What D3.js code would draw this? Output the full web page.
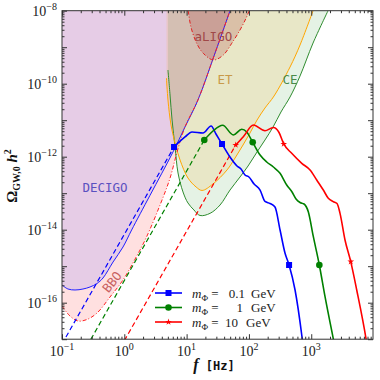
<!DOCTYPE html>
<html>
<head>
<meta charset="utf-8">
<script src="https://cdn.jsdelivr.net/npm/d3@7"></script>
<style>body{margin:0;background:#fff}</style>
</head>
<body>
<svg id="chart" width="380" height="380"></svg>
<script>
// detector sensitivity curves [f (Hz), Omega h^2]
var decigo = [[0.1,3.05e-16],[0.125,2.37e-16],[0.162,2.23e-16],[0.217,2.37e-16],[0.281,2.69e-16],[0.365,3.36e-16],[0.455,4.75e-16],[0.659,1.3e-15],[0.953,3.36e-15],[1.31,9.8e-15],[2.58,8.7e-14],[6.05,1.35e-12],[9.42,6.52e-12],[15.2,3.57e-11],[27.5,5.74e-10],[49.7,1e-8]];
var bbo = [[0.1,8.1e-17],[0.134,4.33e-17],[0.181,3.15e-17],[0.252,3.47e-17],[0.365,5.22e-17],[0.589,1.43e-16],[0.953,4.19e-16],[1.49,1.57e-15],[2.23,5.89e-15],[3.74,4.72e-14],[5.42,2.59e-13],[7.02,1.34e-12],[9.42,6.52e-12],[15.2,3.57e-11],[27.5,5.74e-10],[49.7,1e-8]];
var et = [[4.75,1.43e-10],[5.02,3.57e-11],[5.62,7.38e-12],[6.52,2.37e-12],[7.84,8.12e-13],[10.5,2.61e-13],[14.2,1.48e-13],[17.7,1.19e-13],[26.5,1.79e-13],[44.5,4.33e-13],[59.9,9.2e-13],[80.4,2.09e-12],[104,4.46e-12],[135,1.01e-11],[181,2.16e-11],[253,4.6e-11],[457,2.87e-10],[661,1.15e-9],[1069,1e-8]];
var ce = [[5.02,2.37e-10],[5.42,4.9e-11],[5.84,1.01e-11],[6.52,1.85e-12],[7.28,3.58e-13],[8.75,1.08e-13],[10.5,5.4e-14],[13.1,3.47e-14],[16.4,2.45e-14],[23.8,2.81e-14],[34.4,4.75e-14],[49.7,1.22e-13],[71.9,2.78e-13],[96.8,5.56e-13],[135,1.35e-12],[181,2.87e-12],[244,6.52e-12],[327,1.68e-11],[457,4.33e-11],[661,1.63e-10],[1069,1.3e-9],[1862,1e-8]];
var aligo = [[10.6,1e-8],[11.3,4.9e-9],[12.1,2.96e-9],[14.5,1.28e-9],[18.5,6.81e-10],[26.9,4.46e-10],[38.8,6.11e-10],[53.0,1.28e-9],[71.9,2.96e-9],[89.8,6.19e-9],[101,1e-8]];

// signal spectra
var blueSolid = [[6.28,1.85e-12],[9.42,3.47e-12],[12.2,4.75e-12],[18.3,4.46e-12],[24.7,6.93e-12],[29.6,4.19e-12],[37.0,2.23e-12],[49.7,9.8e-13],[64.4,5.56e-13],[74.7,4.6e-13],[86.5,3.15e-13],[100,2.78e-13],[121,1.79e-13],[151,1.22e-13],[181,5.93e-14],[218,5.22e-14],[262,4.19e-14],[316,9.8e-15],[379,2.3e-15],[441,1.08e-15],[550,2.23e-16],[711,1.15e-17],[738,6.9e-18]];
var greenSolid = [[19.2,2.87e-12],[26.5,5.06e-12],[37.9,7.24e-12],[56.2,3.94e-12],[76.6,5.64e-12],[92.2,4.75e-12],[115,2.48e-12],[151,1.11e-12],[193,7.16e-13],[247,5.22e-13],[316,3.51e-13],[404,1.68e-13],[492,1.08e-13],[570,6.93e-14],[661,5.56e-14],[766,5.06e-14],[897,3.11e-14],[1081,6.43e-15],[1349,1.08e-15],[1665,1.46e-16],[2265,1.01e-17],[2366,6.9e-18]];
var redSolid = [[61.4,2.09e-12],[81.3,3.53e-12],[118,7.38e-12],[181,5.15e-12],[247,6.31e-12],[304,4.6e-12],[362,2.23e-12],[486,1.24e-12],[705,6.59e-13],[957,4.33e-13],[1225,2.3e-13],[1563,1.22e-13],[1879,7.25e-14],[2265,5.85e-14],[2594,5.22e-14],[2897,2.81e-14],[3483,5.22e-15],[4306,1.33e-15],[5370,2.23e-16],[7590,1.01e-17],[7870,6.9e-18]];
var blueDash = [[0.1,7.4e-18],[6.28,1.85e-12]];
var greenDash = [[0.251,6.4e-18],[19.2,2.87e-12]];
var redDash = [[1,9.1e-18],[61.4,2.09e-12]];
var blueMarks = [[6.28,1.85e-12],[37.0,2.23e-12],[441,1.08e-15]];
var greenMarks = [[19.2,2.87e-12],[115,2.48e-12],[1349,1.08e-15]];
var redMarks = [[61.4,2.09e-12],[362,2.23e-12],[4306,1.33e-15]];
var masses = ["0.1", "1", "10"];

var xTickVals = [0.1, 1, 10, 100, 1000];
var xTickExp = ["\u22121", "0", "1", "2", "3"];
var yTickVals = [1e-16, 1e-14, 1e-12, 1e-10, 1e-8];
var yTickExp = ["\u221216", "\u221214", "\u221212", "\u221210", "\u22128"];

var L = 62, R = 373, T = 10.7, B = 339.2;
var svg = d3.select("#chart");
var x = d3.scaleLog().domain([0.1, 9800]).range([L, R]);
var y = d3.scaleLog().domain([1e-17, 1e-8]).range([B, T]);

svg.append("defs").append("clipPath").attr("id", "clip")
  .append("rect").attr("x", L).attr("y", T).attr("width", R - L).attr("height", B - T);
var plot = svg.append("g").attr("clip-path", "url(#clip)");

var smooth = d3.curveCatmullRom.alpha(0.5);
var line = d3.line().x(function(d){ return x(d[0]); }).y(function(d){ return y(d[1]); }).curve(smooth);
var areaUp = d3.area().x(function(d){ return x(d[0]); }).y0(function(d){ return y(d[1]); }).y1(T - 5).curve(smooth);

// filled regions
plot.append("path").attr("d", areaUp(bbo)).attr("fill", "rgba(255,0,0,0.12)");
plot.append("path").attr("d", areaUp(decigo)).attr("fill", "#e6cce6");
plot.append("path").attr("d", areaUp(ce)).attr("fill", "rgba(0,128,0,0.1)");
plot.append("path").attr("d", areaUp(et)).attr("fill", "rgba(255,165,0,0.13)");
plot.append("path").attr("d", areaUp(aligo)).attr("fill", "rgba(165,42,42,0.2)");

// region outlines
plot.append("path").attr("d", line(ce)).attr("fill", "none").attr("stroke", "#2e8b2e").attr("stroke-width", 1);
plot.append("path").attr("d", line(et)).attr("fill", "none").attr("stroke", "orange").attr("stroke-width", 1);
plot.append("path").attr("d", line(decigo)).attr("fill", "none").attr("stroke", "#2020ff").attr("stroke-width", 1);
plot.append("path").attr("d", line(bbo)).attr("fill", "none").attr("stroke", "#ff2020").attr("stroke-width", 1).attr("stroke-dasharray", "4,2,1,2");
plot.append("path").attr("d", line(aligo)).attr("fill", "none").attr("stroke", "#e02020").attr("stroke-width", 1).attr("stroke-dasharray", "4,2,1,2");

// region labels
function regionLabel(txt, f, om, col, rot) {
  var t = plot.append("text").attr("x", x(f)).attr("y", y(om)).attr("dy", "0.35em")
    .attr("text-anchor", "middle").attr("font-family", "'DejaVu Sans Mono', monospace")
    .attr("font-size", 12.5).attr("fill", col).text(txt);
  if (rot) t.attr("transform", "rotate(" + rot + "," + x(f) + "," + y(om) + ")");
}
regionLabel("DECIGO", 0.49, 1.4e-13, "#5a50c0");
regionLabel("aLIGO", 26.9, 1.9e-9, "#a04848");
regionLabel("ET", 41.3, 1.26e-10, "#c89a4a");
regionLabel("CE", 457, 1.26e-10, "#4a8a4a");
regionLabel("BBO", 0.635, 3.7e-16, "#c86060", -52);

// signals
var series = [
  {solid: blueSolid, dash: blueDash, marks: blueMarks, col: "blue", sym: d3.symbolSquare, size: 36},
  {solid: greenSolid, dash: greenDash, marks: greenMarks, col: "green", sym: d3.symbolCircle, size: 34},
  {solid: redSolid, dash: redDash, marks: redMarks, col: "red", sym: d3.symbolStar, size: 14}
];
var sigLine = d3.line().x(function(d){ return x(d[0]); }).y(function(d){ return y(d[1]); }).curve(d3.curveMonotoneX);
series.forEach(function(s) {
  plot.append("path").attr("d", sigLine(s.dash)).attr("fill", "none").attr("stroke", s.col)
    .attr("stroke-width", 1.2).attr("stroke-dasharray", "5,3");
});
series.forEach(function(s) {
  plot.append("path").attr("d", sigLine(s.solid)).attr("fill", "none").attr("stroke", s.col).attr("stroke-width", 1.6);
  plot.selectAll(null).data(s.marks).enter().append("path")
    .attr("d", d3.symbol().type(s.sym).size(s.size))
    .attr("transform", function(d){ return "translate(" + x(d[0]) + "," + y(d[1]) + ")"; })
    .attr("fill", s.col);
});

// axes: inward ticks on all sides
function minors(dom) {
  var out = [];
  for (var e = Math.floor(Math.log10(dom[0])); e <= Math.ceil(Math.log10(dom[1])); e++) {
    for (var k = 2; k <= 9; k++) {
      var v = k * Math.pow(10, e);
      if (v >= dom[0] && v <= dom[1]) out.push(v);
    }
  }
  return out;
}
function majors(dom) {
  var out = [];
  for (var e = Math.ceil(Math.log10(dom[0]) - 1e-9); Math.pow(10, e) <= dom[1] * 1.0001; e++) out.push(Math.pow(10, e));
  return out;
}
var ax = svg.append("g").attr("color", "#333");
function addAxis(gen, scale, tr, vals, len) {
  ax.append("g").attr("transform", tr)
    .call(gen(scale).tickValues(vals).tickSizeInner(-len).tickSizeOuter(0).tickFormat(""))
    .call(function(g){ g.select(".domain").remove(); });
}
[[d3.axisBottom, "translate(0," + B + ")"], [d3.axisTop, "translate(0," + T + ")"]].forEach(function(a) {
  addAxis(a[0], x, a[1], majors(x.domain()), 5);
  addAxis(a[0], x, a[1], minors(x.domain()), 2.5);
});
[[d3.axisLeft, "translate(" + L + ",0)"], [d3.axisRight, "translate(" + R + ",0)"]].forEach(function(a) {
  addAxis(a[0], y, a[1], majors(y.domain()), 5);
  addAxis(a[0], y, a[1], minors(y.domain()), 2.5);
});
svg.append("rect").attr("x", L).attr("y", T).attr("width", R - L).attr("height", B - T)
  .attr("fill", "none").attr("stroke", "#333").attr("stroke-width", 1);

// tick labels
var serif = "'Liberation Serif', 'DejaVu Serif', serif";
xTickVals.forEach(function(v, i) {
  var t = svg.append("text").attr("x", x(v)).attr("y", 356).attr("text-anchor", "middle")
    .attr("font-family", serif).attr("font-size", 14).attr("fill", "#222");
  t.append("tspan").text("10");
  t.append("tspan").attr("dy", -6).attr("font-size", 10).text(xTickExp[i]);
});
yTickVals.forEach(function(v, i) {
  var t = svg.append("text").attr("x", 57).attr("y", y(v) + 5).attr("text-anchor", "end")
    .attr("font-family", serif).attr("font-size", 14).attr("fill", "#222");
  t.append("tspan").text("10");
  t.append("tspan").attr("dy", -6).attr("font-size", 10).text(yTickExp[i]);
});

// axis titles
var xl = svg.append("text").attr("x", 214).attr("y", 370).attr("text-anchor", "middle").attr("fill", "#111");
xl.append("tspan").attr("font-family", serif).attr("font-style", "italic").attr("font-weight", "bold").attr("font-size", 16).text("f");
xl.append("tspan").attr("font-family", "'DejaVu Sans Mono', monospace").attr("font-weight", "bold").attr("font-size", 12).text(" [Hz]");

var yl = svg.append("text").attr("transform", "translate(17,176) rotate(-90)").attr("text-anchor", "middle")
  .attr("font-family", serif).attr("font-weight", "bold").attr("fill", "#111").attr("font-size", 15);
yl.append("tspan").text("\u03a9");
yl.append("tspan").attr("font-size", 10).attr("dy", 3).text("GW,0");
yl.append("tspan").attr("font-style", "italic").attr("dy", -3).text(" h");
yl.append("tspan").attr("font-size", 10).attr("dy", -6).text("2");

// legend
var rowY = [293, 307.5, 322];
var valEnd = [245, 243, 238];
var gevX = [251, 251, 246];
series.forEach(function(s, i) {
  var g = svg.append("g");
  g.append("line").attr("x1", 155).attr("x2", 182).attr("y1", rowY[i]).attr("y2", rowY[i])
    .attr("stroke", s.col).attr("stroke-width", 1.6);
  g.append("path").attr("d", d3.symbol().type(s.sym).size(s.size))
    .attr("transform", "translate(168.5," + rowY[i] + ")").attr("fill", s.col);
  var t = g.append("text").attr("x", 192).attr("y", rowY[i] + 4.5)
    .attr("font-family", serif).attr("font-size", 13).attr("fill", "#222");
  t.append("tspan").attr("font-style", "italic").text("m");
  t.append("tspan").attr("font-size", 9).attr("dy", 3).text("\u03a6");
  t.append("tspan").attr("dy", -3).text(" =");
  g.append("text").attr("x", valEnd[i]).attr("y", rowY[i] + 4.5).attr("text-anchor", "end")
    .attr("font-family", serif).attr("font-size", 13).attr("fill", "#222").text(masses[i]);
  g.append("text").attr("x", gevX[i]).attr("y", rowY[i] + 4.5)
    .attr("font-family", serif).attr("font-size", 13).attr("fill", "#222").text("GeV");
});
</script>
</body>
</html>
